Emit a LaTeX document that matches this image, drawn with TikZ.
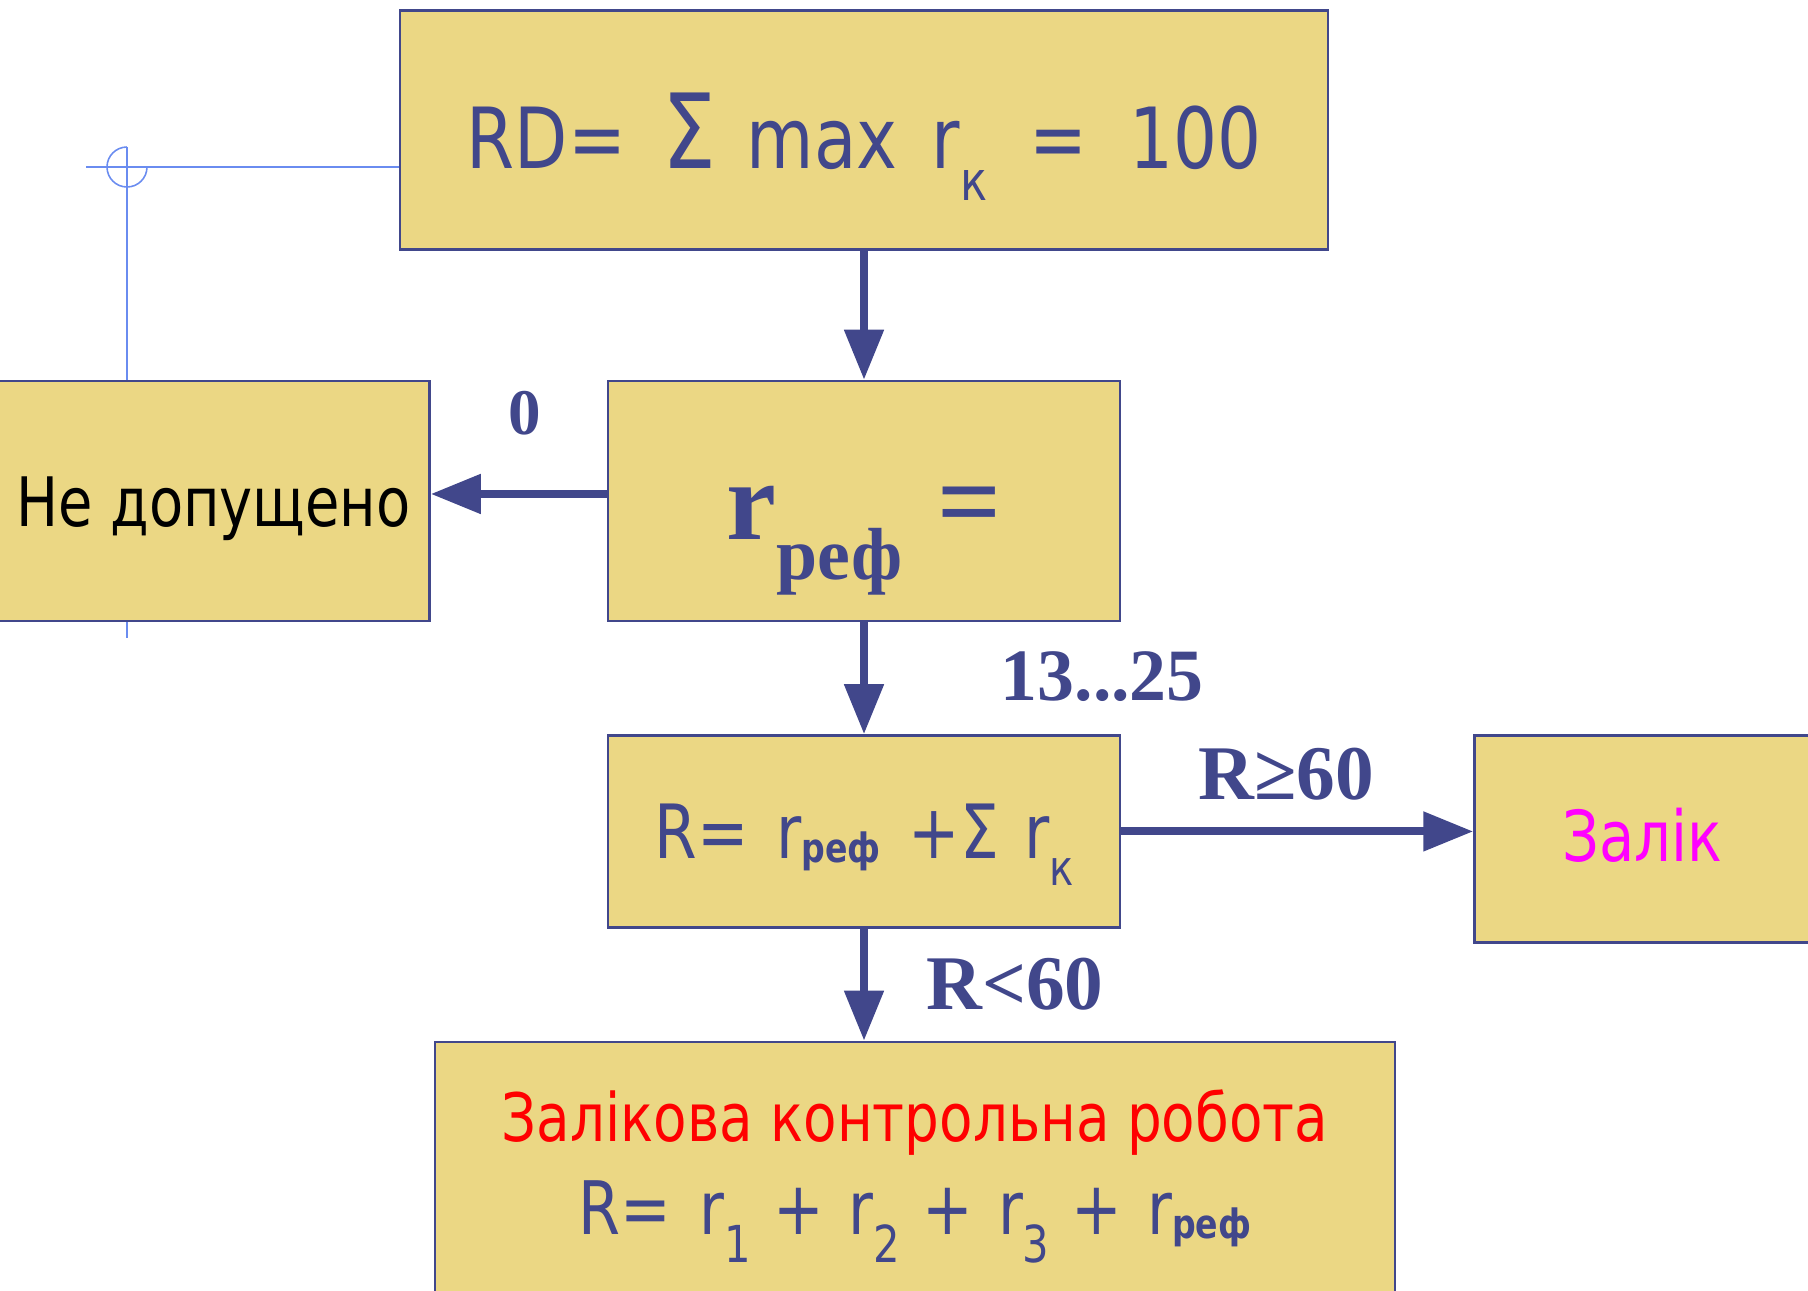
\documentclass[tikz,border=0pt]{standalone}
\usepackage{fontspec}
\usepackage{tikz}
\usetikzlibrary{arrows.meta, positioning, calc}
\newfontfamily\tahfont[FakeStretch=0.82]{DejaVu Sans}
\newfontfamily\romfont{Liberation Serif}
\definecolor{boxfill}{RGB}{235,215,132}
\definecolor{boxblue}{RGB}{65,71,139}
\definecolor{guideblue}{RGB}{106,140,240}
\definecolor{zalmag}{RGB}{255,0,255}
\definecolor{krred}{RGB}{255,0,0}
\newcommand{\fsz}[2]{\fontsize{#1}{#2}\selectfont}
\newcommand{\lowsub}[3]{\raisebox{-#1}{\fsz{#2}{#2}#3}}
\tikzset{
  block/.style={rectangle, draw=boxblue, fill=boxfill, line width=0.7pt,
    inner sep=0pt, align=center, font=\tahfont, text=boxblue, text depth=0pt},
  arrow/.style={-{Triangle[length=0.5cm, width=0.38cm]}, line width=2.3pt, color=boxblue},
  guide/.style={line width=0.45pt, color=guideblue},
  lbl/.style={font=\romfont\bfseries, text=boxblue, inner sep=0pt}
}

\begin{document}
\begin{tikzpicture}
  \useasboundingbox (0,0) rectangle (18.08,-12.90);
  % Top block
  \node[block, minimum width=9.28cm, minimum height=2.39cm, text height=0.76cm] (rd) at (8.64,-1.30)
    {\fsz{24}{24}RD=\hspace{0.36cm}{\fsz{29.5}{29.5}Σ}\hspace{0.31cm}max\hspace{0.34cm}r\lowsub{0.32cm}{15.6}{к}\hspace{0.42cm}=\hspace{0.42cm}100};
  % Referat score
  \node[block, below=1.29cm of rd, minimum width=5.12cm, minimum height=2.40cm, text height=0.78cm,
    font=\romfont\bfseries] (rref)
    {\fsz{32}{32}r\lowsub{0.40cm}{21}{реф}\hspace{0.35cm}=};
  % Not admitted
  \node[block, left=1.76cm of rref, minimum width=4.32cm, minimum height=2.40cm, text height=0.52cm,
    text=black] (neb) {\fsz{19.4}{19.4}Не допущено};
  % Rating sum
  \node[block, below=1.12cm of rref, minimum width=5.12cm, minimum height=1.92cm, text height=0.54cm] (rsum)
    {\fsz{21.3}{21.3}R=\hspace{0.28cm}r\lowsub{0.04cm}{11.5}{\bfseries реф}\hspace{0.28cm}+Σ\hspace{0.25cm}r\lowsub{0.27cm}{14}{к}};
  % Pass
  \node[block, right=3.52cm of rsum.north east, anchor=north west, minimum width=3.36cm,
    minimum height=2.07cm, text height=0.46cm, text=zalmag] (zalik) {\fsz{20}{20}Залік};
  % Test work
  \node[block, below=1.12cm of rsum, xshift=0.51cm, minimum width=9.60cm, minimum height=2.56cm,
    text height=1.30cm, font=\tahfont\fsz{19}{24.75}] (krob)
    {{\color{krred}Залікова контрольна робота}\\[0.06cm]
     {\fsz{21}{21}R=\hspace{0.28cm}r\lowsub{0.28cm}{14.5}{1}\hspace{0.22cm}+\hspace{0.25cm}r\lowsub{0.28cm}{14.5}{2}\hspace{0.22cm}+\hspace{0.25cm}r\lowsub{0.28cm}{14.5}{3}\hspace{0.22cm}+\hspace{0.25cm}r\lowsub{0.04cm}{11.5}{\bfseries реф}}};
  % Branch labels
  \node[lbl, font=\romfont\bfseries\fsz{18.5}{18.5}] (lzero) at ($(rref.west)+(-0.82,0.88)$) {0};
  \node[lbl, font=\romfont\bfseries\fsz{21}{21}] (lrange) at ($(rref.south east)+(-0.19,-0.54)$) {13...25};
  \node[lbl, font=\romfont\bfseries\fsz{22}{22}] (lpass) at ($(rsum.east)+(1.65,0.57)$) {R≥60};
  \node[lbl, font=\romfont\bfseries\fsz{22}{22}] (lfail) at ($(rsum.south)+(1.51,-0.55)$) {R<60};
  % Arrows
  \draw[arrow] (rd) -- (rref);
  \draw[arrow] ([yshift=0.07cm]rref.west) -- ([yshift=0.07cm]neb.east);
  \draw[arrow] (rref) -- (rsum);
  \draw[arrow] (rsum.east) -- (rsum.east -| zalik.west);
  \draw[arrow] (rsum.south) -- (rsum.south |- krob.north);
  % Thin guide line with hop
  \coordinate (hop) at (1.27,-1.67);
  \draw[guide] (0.86,-1.67) -- (hop -| rd.west);
  \draw[guide] ([yshift=0.2cm]hop) arc[start angle=90, end angle=360, radius=0.2cm];
  \draw[guide] ([yshift=0.2cm]hop) -- (hop |- neb.north);
  \draw[guide] (hop |- neb.south) -- ++(0,-0.16);
\end{tikzpicture}
\end{document}
